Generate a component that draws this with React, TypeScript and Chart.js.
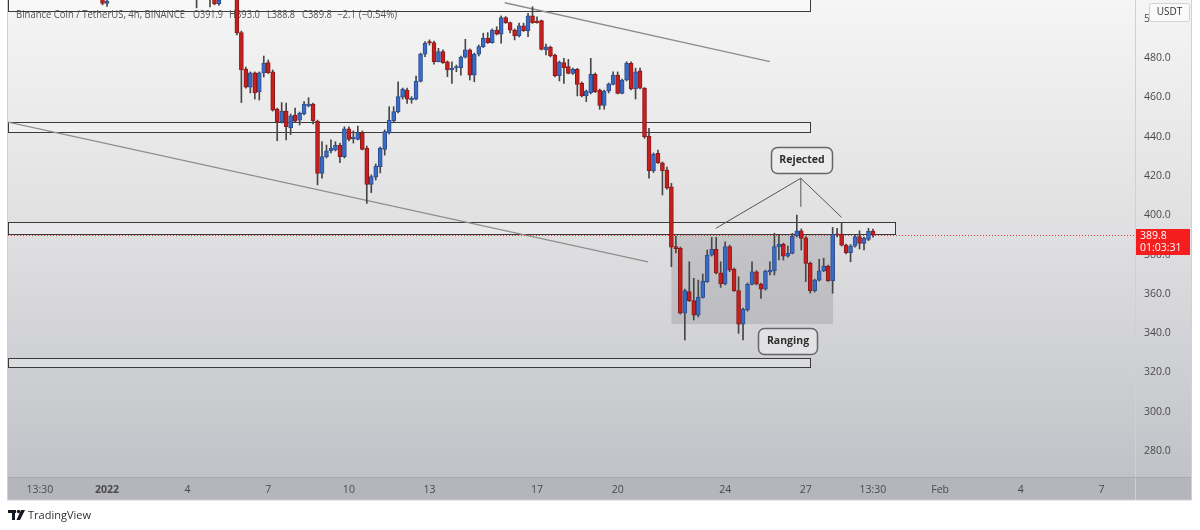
import { useEffect, useRef } from 'react';
import { Chart, registerables } from 'chart.js';

Chart.register(...registerables);

const FONT = "'Open Sans', 'Noto Sans', sans-serif";

// ---- Axis ranges (candle index: 0 = first 4h candle of 1 Jan 2022) ----
const X_MIN = -22.1;
const X_MAX = 229.5;
const Y_MIN = 266.8;
const Y_MAX = 509.5;

const yTickValues = [280, 300, 320, 340, 360, 380, 400, 420, 440, 460, 480, 500];
const xTickPositions = [-15, 0, 18, 36, 54, 72, 96, 114, 138, 156, 171, 186, 204, 222];
const xTickLabels = ['13:30', '2022', '4', '7', '10', '13', '17', '20', '24', '27', '13:30', 'Feb', '4', '7'];

// ---- Early candles (only their lows peek into view at the top) ----
const earlyIndex = [-1, 0, 20, 23, 24, 25];
const earlyOpen = [512, 507.8, 516, 514, 512, 507.6];
const earlyHigh = [515, 513, 520, 518, 513, 512];
const earlyLow = [507, 506.2, 505.5, 506, 507, 506.8];
const earlyClose = [507.8, 509, 514, 512, 507.6, 509.5];

// ---- Main 4h candles, consecutive from FIRST_INDEX ----
const FIRST_INDEX = 29;
const opens = [
  512, 492.9, 474.4, 465.2, 472.4, 462.7, 472.4, 477.6, 473.0, 454.0,
  447.4, 453.0, 444.5, 451.0, 448.4, 451.5, 455.6, 456.6, 447.8, 421.3,
  429.8, 432.8, 433.2, 435.6, 429.8, 443.9, 439.0, 438.6, 442.0, 434.0,
  415.7, 419.3, 424.7, 433.5, 442.0, 448.1, 452.7, 460.0, 463.7, 458.8,
  459.0, 468.1, 482.0, 488.0, 487.8, 478.1, 483.2, 478.1, 473.9, 474.9,
  475.1, 480.4, 484.1, 471.3, 481.9, 485.8, 490.0, 487.8, 494.2, 492.1,
  500.5, 498.0, 494.2, 491.2, 496.3, 493.9, 501.4, 498.3, 499.0, 484.1,
  485.4, 481.5, 471.0, 477.6, 475.6, 472.2, 474.2, 467.1, 460.7, 462.3,
  471.7, 463.7, 455.9, 463.2, 466.6, 471.3, 462.0, 468.8, 477.3, 464.2,
  473.5, 464.6, 440.3, 422.6, 431.5, 426.7, 423.0, 414.5, 384.0, 383.1,
  350.1, 361.1, 356.5, 349.2, 358.2, 366.2, 379.7, 382.6, 370.7, 365.0,
  384.0, 372.6, 361.6, 344.6, 351.8, 364.8, 371.2, 365.0, 362.4, 371.2,
  371.6, 384.0, 385.2, 379.2, 380.6, 389.4, 392.1, 388.5, 375.5, 361.6,
  367.0, 371.7, 374.1, 366.7, 390.3, 390.3, 384.8, 380.9, 384.3, 389.1,
  385.7, 387.7, 391.9,
];
const highs = [
  514, 493.7, 475.4, 472.9, 472.9, 472.9, 481.0, 479.0, 473.9, 454.5,
  457.3, 457.1, 451.5, 454.5, 452.5, 457.8, 459.8, 457.1, 448.4, 437.4,
  435.7, 438.3, 437.4, 436.7, 445.0, 445.0, 442.9, 445.4, 442.9, 435.2,
  420.5, 426.1, 434.7, 443.4, 455.2, 455.2, 467.9, 464.7, 464.7, 460.3,
  470.8, 482.5, 488.3, 489.2, 488.6, 484.9, 484.1, 478.5, 478.1, 476.4,
  481.0, 489.5, 484.6, 482.5, 486.6, 492.6, 492.9, 494.8, 495.9, 501.4,
  501.1, 498.3, 494.8, 497.7, 497.7, 502.7, 506.1, 501.0, 499.3, 487.1,
  486.1, 482.0, 478.5, 479.8, 479.3, 474.9, 474.7, 467.8, 463.7, 479.8,
  472.4, 464.2, 463.7, 467.3, 473.0, 472.9, 469.3, 478.1, 478.1, 474.8,
  474.8, 465.0, 444.2, 431.7, 433.2, 427.1, 424.5, 416.2, 389.4, 383.8,
  362.4, 376.3, 367.9, 367.0, 370.1, 382.3, 388.7, 388.7, 376.3, 386.5,
  384.8, 373.1, 368.7, 352.8, 365.5, 376.3, 371.8, 365.5, 372.1, 376.3,
  390.8, 389.9, 385.8, 384.3, 390.8, 400.1, 393.0, 389.2, 376.2, 367.5,
  377.6, 378.1, 374.6, 393.8, 393.3, 396.2, 385.3, 385.1, 389.7, 392.1,
  388.9, 393.3, 393.0,
];
const lows = [
  491.7, 457.3, 464.7, 462.2, 459.1, 458.6, 470.3, 472.1, 453.0, 437.9,
  446.9, 438.3, 441.0, 447.4, 445.9, 451.0, 455.1, 446.4, 415.4, 418.9,
  429.1, 431.7, 432.7, 426.7, 429.1, 437.8, 436.7, 438.3, 433.2, 406.0,
  411.5, 417.9, 421.5, 430.6, 441.3, 447.4, 452.0, 459.1, 456.9, 457.0,
  458.6, 467.8, 480.7, 486.6, 476.9, 478.0, 477.2, 470.5, 467.1, 473.0,
  471.3, 480.0, 468.8, 467.9, 481.0, 485.3, 487.4, 487.5, 491.7, 487.5,
  497.6, 492.7, 489.2, 490.7, 493.5, 490.8, 497.6, 497.7, 484.1, 481.5,
  480.5, 470.3, 468.3, 467.1, 471.9, 471.6, 460.7, 460.2, 457.8, 461.7,
  462.4, 453.9, 453.9, 462.2, 466.3, 461.7, 461.7, 468.3, 463.7, 459.1,
  464.2, 439.1, 418.8, 421.7, 426.3, 410.3, 413.3, 373.8, 380.8, 349.7,
  336.5, 356.1, 346.7, 348.2, 357.8, 365.8, 379.2, 370.1, 363.3, 364.5,
  371.2, 361.2, 339.9, 336.5, 351.2, 364.5, 364.5, 357.7, 361.9, 369.6,
  369.6, 377.2, 377.2, 378.7, 380.3, 388.9, 382.3, 366.2, 360.3, 360.9,
  366.5, 371.3, 366.3, 360.3, 388.9, 384.3, 380.3, 376.3, 383.8, 382.8,
  382.3, 387.1, 388.8,
];
const closes = [
  492.7, 473.9, 465.2, 472.4, 462.2, 472.4, 477.4, 472.5, 453.5, 447.4,
  453.0, 445.0, 450.6, 447.9, 452.0, 456.6, 456.6, 448.1, 421.3, 429.8,
  432.8, 434.0, 435.6, 429.8, 444.0, 438.6, 439.8, 442.0, 433.5, 415.7,
  419.6, 425.0, 434.0, 442.5, 448.4, 452.7, 460.3, 464.1, 459.0, 459.5,
  468.1, 482.0, 487.5, 487.6, 478.1, 483.2, 477.6, 473.9, 474.9, 475.2,
  480.4, 484.1, 471.3, 481.9, 485.8, 490.0, 487.8, 494.2, 492.1, 500.5,
  498.0, 494.2, 491.2, 496.3, 493.9, 501.4, 498.0, 498.0, 484.4, 485.7,
  481.0, 471.0, 477.8, 475.1, 472.2, 474.2, 466.6, 460.7, 463.2, 471.7,
  462.8, 455.9, 463.2, 466.8, 471.3, 462.0, 468.8, 477.3, 464.2, 473.0,
  464.6, 439.9, 422.6, 431.1, 426.7, 422.6, 413.7, 383.8, 383.0, 350.1,
  361.6, 356.5, 349.2, 358.2, 366.5, 379.7, 382.6, 370.7, 365.0, 384.0,
  372.1, 361.6, 344.6, 352.1, 364.8, 371.2, 365.0, 362.4, 371.6, 372.1,
  384.0, 385.2, 379.2, 380.6, 389.4, 392.1, 388.2, 375.5, 361.6, 367.0,
  371.7, 374.1, 366.7, 390.3, 389.8, 384.8, 380.9, 384.3, 389.1, 385.7,
  388.2, 391.9, 389.8,
];

const LAST_PRICE = 389.8;
const COUNTDOWN = '01:03:31';

// ---- Drawings (in chart coordinates: candle index / price) ----
const zoneTop = [516, 447.5, 396.4, 327.3];
const zoneBottom = [503.9, 442.1, 390.4, 322.8];
const zoneEnd = [156.9, 156.9, 175.9, 156.9];

const rangeX = [126.0, 162.1];
const rangeY = [344.6, 389.7];

const trendStartX = [-22.1, 88.8];
const trendStartY = [447.4, 508.1];
const trendEndX = [120.8, 148.0];
const trendEndY = [376.2, 478.1];

const rejectedApex = [154.9, 418.8];
const rejectedEndX = [135.9, 154.9, 164.0];
const rejectedEndY = [393.3, 404.3, 398.9];
const rejectedBox = [155.0, 428.3];
const rangingBox = [152.0, 336.0];

const BLUE = '#3a6bc5';
const RED = '#c3201f';
const BLUE_EDGE = '#2c4f90';
const RED_EDGE = '#8f1716';

function buildSeries() {
  const idx: number[] = [...earlyIndex];
  const o = [...earlyOpen], h = [...earlyHigh], l = [...earlyLow], c = [...earlyClose];
  for (let k = 0; k < opens.length; k++) {
    idx.push(FIRST_INDEX + k);
    o.push(opens[k]); h.push(highs[k]); l.push(lows[k]); c.push(closes[k]);
  }
  const wicks = idx.map((x, k) => ({ x, y: [l[k], h[k]] }));
  const bodies = idx.map((x, k) => ({ x, y: [o[k], c[k]] }));
  const colors = idx.map((_, k) => (c[k] >= o[k] ? BLUE : RED));
  const edges = idx.map((_, k) => (c[k] >= o[k] ? BLUE_EDGE : RED_EDGE));
  return { wicks, bodies, colors, edges };
}

function roundRect(ctx: CanvasRenderingContext2D, x: number, y: number, w: number, h: number, r: number) {
  ctx.beginPath();
  ctx.moveTo(x + r, y);
  ctx.lineTo(x + w - r, y);
  ctx.arcTo(x + w, y, x + w, y + r, r);
  ctx.lineTo(x + w, y + h - r);
  ctx.arcTo(x + w, y + h, x + w - r, y + h, r);
  ctx.lineTo(x + r, y + h);
  ctx.arcTo(x, y + h, x, y + h - r, r);
  ctx.lineTo(x, y + r);
  ctx.arcTo(x, y, x + r, y, r);
  ctx.closePath();
}

const backgroundPlugin = {
  id: 'tvBackground',
  beforeDraw(chart: any) {
    const { ctx, chartArea: ca, scales } = chart;
    const L = ca.left;
    const R = scales.y.right;
    const B = scales.x.bottom;
    ctx.save();
    ctx.fillStyle = '#ffffff';
    ctx.fillRect(0, 0, chart.width, chart.height);
    const g = ctx.createLinearGradient(0, 0, 0, ca.bottom);
    g.addColorStop(0, '#f5f5f5');
    g.addColorStop(0.5, '#dfdfe1');
    g.addColorStop(1, '#c0c2c7');
    ctx.fillStyle = g;
    ctx.fillRect(L, 0, R - L, ca.bottom);
    ctx.fillStyle = '#b4b6bc';
    ctx.fillRect(L, ca.bottom, R - L, B - ca.bottom);
    ctx.lineWidth = 1;
    ctx.strokeStyle = '#cfd0d4';
    ctx.beginPath();
    ctx.moveTo(Math.round(ca.right) + 0.5, 0);
    ctx.lineTo(Math.round(ca.right) + 0.5, B);
    ctx.stroke();
    ctx.strokeStyle = '#a8aab0';
    ctx.beginPath();
    ctx.moveTo(L, Math.round(ca.bottom) + 0.5);
    ctx.lineTo(R, Math.round(ca.bottom) + 0.5);
    ctx.stroke();
    ctx.strokeStyle = '#d0d1d4';
    ctx.strokeRect(L - 0.5, -1, R - L + 1, B + 1);
    ctx.restore();
  },
};

const drawingsPlugin = {
  id: 'tvDrawings',
  beforeDatasetsDraw(chart: any) {
    const { ctx, chartArea: ca, scales } = chart;
    const X = (v: number) => scales.x.getPixelForValue(v);
    const Y = (v: number) => scales.y.getPixelForValue(v);
    ctx.save();
    ctx.beginPath();
    ctx.rect(ca.left, ca.top, ca.right - ca.left, ca.bottom - ca.top);
    ctx.clip();

    // ranging shade
    ctx.fillStyle = 'rgba(105,107,113,0.22)';
    ctx.fillRect(X(rangeX[0]), Y(rangeY[1]), X(rangeX[1]) - X(rangeX[0]), Y(rangeY[0]) - Y(rangeY[1]));

    // zones
    for (let k = 0; k < zoneTop.length; k++) {
      const x0 = ca.left + 0.5;
      const x1 = Math.round(X(zoneEnd[k])) + 0.5;
      const y0 = Math.round(Y(zoneTop[k])) + 0.5;
      const y1 = Math.round(Y(zoneBottom[k])) + 0.5;
      ctx.fillStyle = 'rgba(255,255,255,0.28)';
      ctx.fillRect(x0, y0, x1 - x0, y1 - y0);
      ctx.strokeStyle = '#3a3a3a';
      ctx.lineWidth = 1;
      ctx.strokeRect(x0, y0, x1 - x0, y1 - y0);
    }

    // trend lines
    ctx.strokeStyle = '#8e8e8e';
    ctx.lineWidth = 1.3;
    for (let k = 0; k < trendStartX.length; k++) {
      ctx.beginPath();
      ctx.moveTo(X(trendStartX[k]), Y(trendStartY[k]));
      ctx.lineTo(X(trendEndX[k]), Y(trendEndY[k]));
      ctx.stroke();
    }

    // last price dotted line
    const py = Math.round(Y(LAST_PRICE)) + 0.5;
    ctx.strokeStyle = '#e53935';
    ctx.lineWidth = 1;
    ctx.setLineDash([1, 2]);
    ctx.beginPath();
    ctx.moveTo(ca.left, py);
    ctx.lineTo(ca.right, py);
    ctx.stroke();
    ctx.setLineDash([]);
    ctx.restore();

    // legend text
    ctx.save();
    ctx.fillStyle = '#545454';
    ctx.font = `11px ${FONT}`;
    ctx.textBaseline = 'middle';
    const parts: [string, number, number][] = [
      ['Binance Coin / TetherUS, 4h, BINANCE', 16, 169],
      ['O391.9', 193, 30],
      ['H393.0', 229, 31],
      ['L388.8', 267, 28],
      ['C389.8', 302, 30],
      ['\u22122.1 (\u22120.54%)', 337, 60],
    ];
    for (const [t, x, w] of parts) ctx.fillText(t, x, 15, w);
    ctx.restore();
  },
  afterDatasetsDraw(chart: any) {
    const { ctx, chartArea: ca, scales } = chart;
    const X = (v: number) => scales.x.getPixelForValue(v);
    const Y = (v: number) => scales.y.getPixelForValue(v);
    ctx.save();

    // Rejected callout lines
    ctx.strokeStyle = '#555';
    ctx.lineWidth = 1;
    for (let k = 0; k < rejectedEndX.length; k++) {
      ctx.beginPath();
      ctx.moveTo(X(rejectedApex[0]), Y(rejectedApex[1]));
      ctx.lineTo(X(rejectedEndX[k]), Y(rejectedEndY[k]));
      ctx.stroke();
    }

    const callout = (cx: number, cy: number, w: number, h: number, text: string, fill: string) => {
      const x = Math.round(X(cx) - w / 2) + 0.5;
      const y = Math.round(Y(cy) - h / 2) + 0.5;
      roundRect(ctx, x, y, w, h, 6);
      ctx.fillStyle = fill;
      ctx.fill();
      ctx.strokeStyle = '#666';
      ctx.lineWidth = 1.5;
      ctx.stroke();
      ctx.fillStyle = '#2e2e2e';
      ctx.font = `bold 10.5px ${FONT}`;
      ctx.textAlign = 'center';
      ctx.textBaseline = 'middle';
      ctx.fillText(text, x + w / 2, y + h / 2);
    };
    callout(rejectedBox[0], rejectedBox[1], 61, 26, 'Rejected', '#ececec');
    callout(rangingBox[0], rangingBox[1], 59, 26, 'Ranging', '#e2e2e4');

    // price label on axis
    const py = Y(LAST_PRICE);
    const lx = ca.right + 1;
    const rw = scales.y.right - lx - 1;
    ctx.fillStyle = '#f51d1d';
    ctx.fillRect(lx, Math.round(py - 6.5), rw, 26);
    ctx.fillStyle = '#ffffff';
    ctx.font = `10.5px ${FONT}`;
    ctx.textAlign = 'left';
    ctx.textBaseline = 'middle';
    ctx.fillText(LAST_PRICE.toFixed(1), lx + 4, py + 0.5);
    ctx.fillText(COUNTDOWN, lx + 4, py + 13);

    // currency badge
    const bx = 1149.5, by = 3.5;
    roundRect(ctx, bx, by, 40, 18, 2);
    ctx.fillStyle = '#fafafa';
    ctx.fill();
    ctx.strokeStyle = '#d2d2d2';
    ctx.lineWidth = 1;
    ctx.stroke();
    ctx.fillStyle = '#333';
    ctx.font = `10px ${FONT}`;
    ctx.textAlign = 'center';
    ctx.fillText('USDT', bx + 20, by + 9);
    ctx.restore();
  },
  afterDraw(chart: any) {
    const { ctx } = chart;
    ctx.save();
    // TradingView mark
    ctx.fillStyle = '#131722';
    ctx.fillRect(8, 510, 8, 3);
    ctx.fillRect(12, 510, 3, 10);
    ctx.beginPath();
    ctx.arc(18.5, 511.5, 1.7, 0, Math.PI * 2);
    ctx.fill();
    ctx.beginPath();
    ctx.moveTo(21, 510);
    ctx.lineTo(25, 510);
    ctx.lineTo(20, 520);
    ctx.lineTo(16.5, 520);
    ctx.closePath();
    ctx.fill();
    ctx.fillStyle = '#333';
    ctx.font = `11px ${FONT}`;
    ctx.textBaseline = 'middle';
    ctx.fillText('TradingView', 28, 515.5);
    ctx.restore();
  },
};

export default function App() {
  const ref = useRef<HTMLCanvasElement>(null);
  useEffect(() => {
    const canvas = ref.current;
    if (!canvas) return;
    const { wicks, bodies, colors, edges } = buildSeries();
    const chart = new Chart(canvas, {
      type: 'bar',
      data: {
        datasets: [
          {
            label: 'body',
            data: bodies as any,
            backgroundColor: colors,
            borderColor: edges,
            borderWidth: 1,
            borderSkipped: false,
            barThickness: 4,
            grouped: false,
            minBarLength: 1.5,
            order: 0,
          } as any,
          {
            label: 'wick',
            data: wicks as any,
            backgroundColor: '#474747',
            barThickness: 1,
            grouped: false,
            minBarLength: 1,
            order: 1,
          } as any,
        ],
      },
      options: {
        animation: false,
        responsive: false,
        events: [],
        layout: { padding: { left: 8, right: 9, top: 0, bottom: 30 } },
        plugins: { legend: { display: false }, tooltip: { enabled: false } },
        scales: {
          x: {
            type: 'linear',
            min: X_MIN,
            max: X_MAX,
            offset: false,
            grid: { display: false, drawTicks: false },
            border: { display: false },
            afterBuildTicks: (s: any) => {
              s.ticks = xTickPositions.map((v) => ({ value: v }));
            },
            afterFit: (s: any) => {
              s.height = 23;
              s.paddingLeft = 0;
              s.paddingRight = 0;
            },
            ticks: {
              autoSkip: false,
              maxRotation: 0,
              minRotation: 0,
              padding: 7,
              color: '#4a4a4a',
              font: (c: any) => ({ family: FONT, size: 10.5, weight: c.index === 1 ? 'bold' : 'normal' }),
              callback: (_v: any, i: number) => xTickLabels[i],
            },
          } as any,
          y: {
            type: 'linear',
            position: 'right',
            min: Y_MIN,
            max: Y_MAX,
            grid: { display: false, drawTicks: false },
            border: { display: false },
            afterBuildTicks: (s: any) => {
              s.ticks = yTickValues.map((v) => ({ value: v }));
            },
            afterFit: (s: any) => {
              s.width = 56;
              s.paddingTop = 0;
              s.paddingBottom = 0;
            },
            ticks: {
              padding: 9,
              color: '#4a4a4a',
              font: { family: FONT, size: 10.5 },
              callback: (v: any) => Number(v).toFixed(1),
            },
          } as any,
        },
      },
      plugins: [backgroundPlugin, drawingsPlugin],
    });
    return () => chart.destroy();
  }, []);
  return (
    <div style={{ position: 'absolute', left: 0, top: 0, width: 1200, height: 530, background: '#fff' }}>
      <canvas ref={ref} width={1200} height={530} style={{ display: 'block', width: 1200, height: 530 }} />
    </div>
  );
}
